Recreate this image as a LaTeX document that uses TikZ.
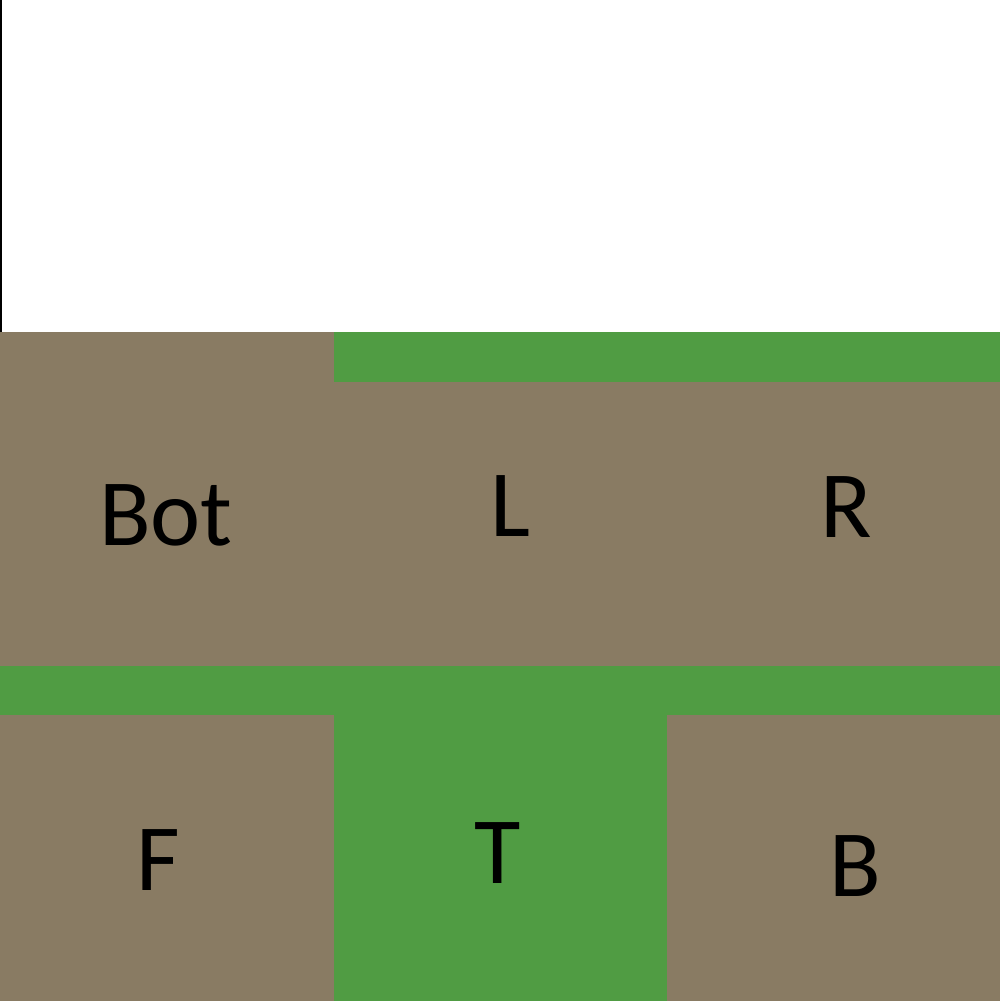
\documentclass[tikz,border=0pt]{standalone}
\usepackage{fontspec}
\setmainfont{Carlito}
\definecolor{dirt}{RGB}{137,123,99}
\definecolor{grass}{RGB}{80,156,67}

\begin{document}
\begin{tikzpicture}[x=0.01cm,y=-0.01cm]
				\tikzstyle{every node}=[inner sep=0pt,text=black,font=\fontsize{27}{32}\selectfont]
				\tikzstyle{dirtface}=[fill=dirt]
				\tikzstyle{grassface}=[fill=grass]
				\useasboundingbox (0,0) rectangle (1000,1001);
				\fill[white] (0,0) rectangle (1000,332);
				\fill[black] (0,0) rectangle (2,332);
				\fill[dirtface] (0,332) rectangle (1000,1001);
				\fill[grassface] (334,332) rectangle (1000,382);
				\fill[grassface] (0,666) rectangle (1000,715);
				\fill[grassface] (334,715) rectangle (667,1001);
				\node (bot) at (166,515) {Bot};
				\node (left) at (510,506) {L};
				\node (right) at (846,507) {R};
				\node (front) at (158,860) {F};
				\node (top) at (498,853) {T};
				\node (back) at (855,866) {B};
\end{tikzpicture}
\end{document}
